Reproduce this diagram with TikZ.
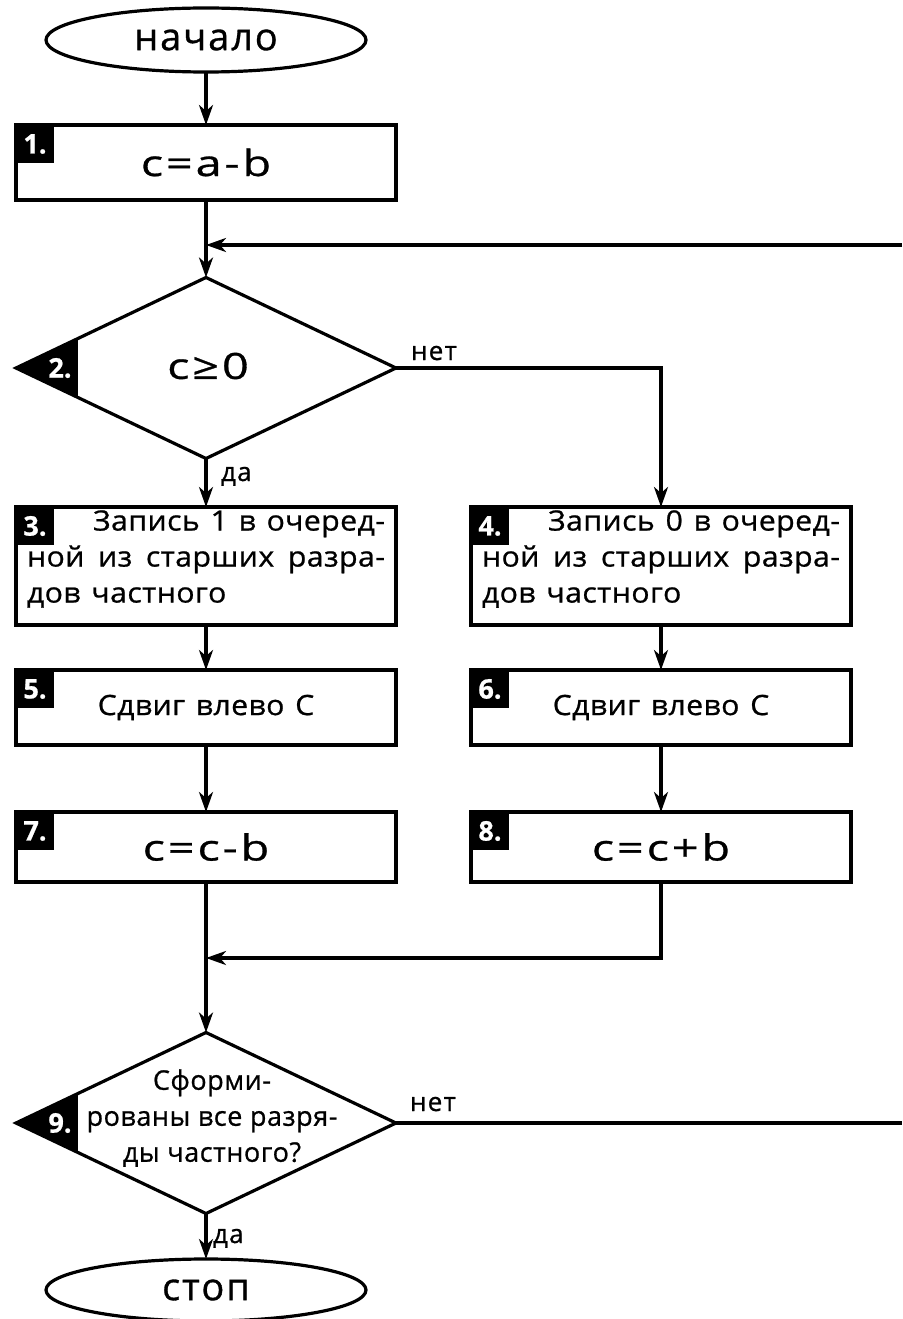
\documentclass[tikz,border=0pt]{standalone}
\usepackage{fontspec}
\setmainfont{Open Sans}[FakeBold=0.8]
\newfontfamily\midfont{Open Sans}[FakeBold=0.8,FakeStretch=1.08,LetterSpace=1.5,WordSpace=1.3]
\newfontfamily\bigfont{Open Sans}[FakeBold=0.8,FakeStretch=1.3,LetterSpace=8]
\usetikzlibrary{shapes.geometric,arrows.meta,calc}
\begin{document}
\begin{tikzpicture}[x=1pt,y=-1pt,
  line width=3.2pt,
  every node/.style={inner sep=0pt, outer sep=0pt},
  proc/.style={draw, rectangle, minimum width=380pt, line width=3.2pt},
  term/.style={draw, ellipse, minimum width=320pt, minimum height=64pt, font=\fontsize{38}{40}\selectfont\addfontfeatures{LetterSpace=5}},
  dec/.style={draw, diamond, minimum width=380pt, minimum height=181pt},
  badge/.style={fill=black, text=white, minimum size=38pt, anchor=north west, font=\bfseries\fontsize{27}{27}\selectfont},
  dbadge/.style={text=white, font=\bfseries\fontsize{27}{27}\selectfont},
  arr/.style={-{Stealth[length=20pt,width=14pt,inset=6pt]}},
  big/.style={font=\bigfont\fontsize{36}{40}\selectfont},
  mid/.style={font=\midfont\fontsize{28}{36}\selectfont},
  dtext/.style={font=\fontsize{27}{36}\selectfont\addfontfeatures{LetterSpace=2}},
  lab/.style={font=\fontsize{26}{28}\selectfont\addfontfeatures{LetterSpace=5}}
]
\useasboundingbox (0,0) rectangle (902,1319);

% start
\node[term] (start) at (206,40) {начало};

% 1
\node[proc, minimum height=75pt, big] (b1) at (206,162.5) {c=a-b};
\node[badge] (n1) at (b1.north west) {1.};

% 2
\node[dec] (d2) at (206,368) {};
\fill (d2.west) -- ($(d2.west)!0.326!(d2.north)$) -- ($(d2.west)!0.326!(d2.south)$) -- cycle;
\node[dbadge] (n2) at (60,368) {2.};
\node[big] (t2) at (208,366) {c≥0};

% 3 / 4
\node[proc, minimum height=118pt] (b3) at (206,566) {};
\node[mid, align=left] (t3) at (206,559) {\makebox[358pt][r]{Запись 1 в очеред-}\\\makebox[358pt][s]{ной из старших разра-}\\\makebox[358pt][l]{дов частного}};
\node[badge] (n3) at (b3.north west) {3.};

\node[proc, minimum height=118pt] (b4) at (661,566) {};
\node[mid, align=left] (t4) at (661,559) {\makebox[358pt][r]{Запись 0 в очеред-}\\\makebox[358pt][s]{ной из старших разра-}\\\makebox[358pt][l]{дов частного}};
\node[badge] (n4) at (b4.north west) {4.};

% 5 / 6
\node[proc, minimum height=75pt, mid] (b5) at (206,707.5) {Сдвиг влево С};
\node[badge] (n5) at (b5.north west) {5.};
\node[proc, minimum height=75pt, mid] (b6) at (661,707.5) {Сдвиг влево С};
\node[badge] (n6) at (b6.north west) {6.};

% 7 / 8
\node[proc, minimum height=70pt, big] (b7) at (206,847) {c=c-b};
\node[badge] (n7) at (b7.north west) {7.};
\node[proc, minimum height=70pt, big] (b8) at (661,847) {c=c+b};
\node[badge] (n8) at (b8.north west) {8.};

% 9
\node[dec] (d9) at (206,1123) {};
\fill (d9.west) -- ($(d9.west)!0.326!(d9.north)$) -- ($(d9.west)!0.326!(d9.south)$) -- cycle;
\node[dbadge] (n9) at (60,1123) {9.};
\node[dtext, align=center] (t9) at (212,1118) {Сформи-\\рованы все разря-\\ды частного?};

% stop
\node[term, minimum height=62pt] (stop) at (206,1290) {стоп};

% connectors
\coordinate (m1) at (206,245);
\coordinate (r1) at (902,245);
\coordinate (m2) at (206,958);
\coordinate (r2) at (902,1123);

\draw[arr] (start) -- (b1);
\draw (b1.south) -- (m1);
\draw[arr] (m1) -- (d2.north);
\draw[arr] (r1) -- (m1);

\draw[arr] (d2.south) -- (b3.north);
\draw[arr] (d2.east) -| (b4.north);
\node[lab, anchor=base west] (no1) at (411,360) {нет};
\node[lab, anchor=base west] (yes1) at (221,481) {да};

\draw[arr] (b3) -- (b5);
\draw[arr] (b5) -- (b7);
\draw[arr] (b4) -- (b6);
\draw[arr] (b6) -- (b8);

\draw (b7.south) -- (m2);
\draw[arr] (m2) -- (d9.north);
\draw[arr] (b8.south) |- (m2);

\draw (d9.east) -- (r2);
\node[lab, anchor=base west] (no2) at (410,1111) {нет};
\draw[arr] (d9.south) -- (stop.north);
\node[lab, anchor=base west] (yes2) at (213,1243) {да};
\end{tikzpicture}
\end{document}
